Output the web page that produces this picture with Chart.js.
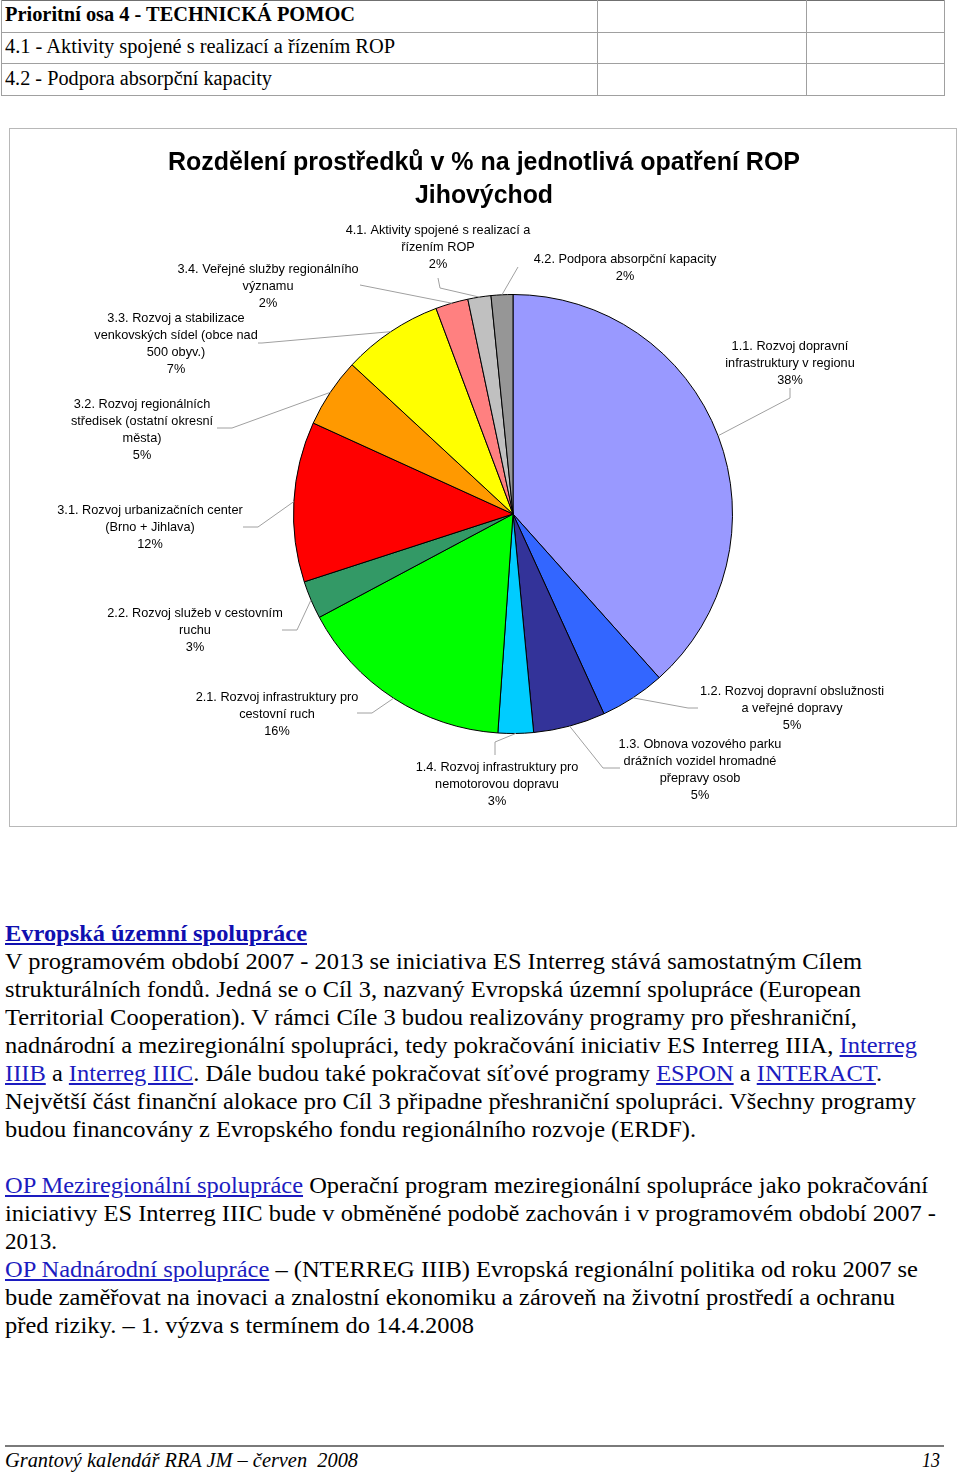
<!DOCTYPE html>
<html lang="cs">
<head>
<meta charset="utf-8">
<title>Rozdělení prostředků ROP Jihovýchod</title>
<script src="https://cdn.jsdelivr.net/npm/chart.js@4.4.1/dist/chart.umd.min.js"></script>
<style>
  html, body { margin: 0; padding: 0; background: #fff; }
  body { width: 960px; height: 1473px; position: relative; overflow: hidden;
         font-family: "Liberation Serif", "Times New Roman", serif; color: #000; }
  .ln { position: absolute; left: 5px; white-space: nowrap; transform-origin: 0 0; }
  .cell { position: absolute; background: #a0a0a0; }
  .tbl { font-size: 20px; line-height: 20px; }
  .txt { font-size: 24px; line-height: 28px; }
  .lnk { color: #1c1cc0; text-decoration: underline; }
  .head { color: #1010b0; font-weight: bold; text-decoration: underline; }
  #box { position: absolute; left: 9px; top: 128px; width: 946px; height: 697px; border: 1px solid #b8b8b8; }
  #chart { display: block; }
  .foot { font-style: italic; font-size: 21px; line-height: 21px; }
</style>
</head>
<body>

<!-- table header rows -->
<div class="cell" style="left:1px;top:0;width:944px;height:1px;background:#707070"></div>
<div class="cell" style="left:1px;top:32px;width:944px;height:1px"></div>
<div class="cell" style="left:1px;top:63px;width:944px;height:1px"></div>
<div class="cell" style="left:1px;top:95px;width:944px;height:1px"></div>
<div class="cell" style="left:1px;top:0;width:1px;height:96px"></div>
<div class="cell" style="left:597px;top:0;width:1px;height:96px"></div>
<div class="cell" style="left:806px;top:0;width:1px;height:96px"></div>
<div class="cell" style="left:944px;top:0;width:1px;height:96px"></div>
<div class="ln tbl" style="top:4px;font-weight:bold" data-w="350">Prioritní osa 4 - TECHNICKÁ POMOC</div>
<div class="ln tbl" style="top:36px" data-w="390">4.1 - Aktivity spojené s realizací a řízením ROP</div>
<div class="ln tbl" style="top:68px" data-w="267">4.2 - Podpora absorpční kapacity</div>

<div id="box"><canvas id="chart" width="946" height="697"></canvas></div>

<div class="ln txt" style="top:919px" data-w="302"><span class="head">Evropská územní spolupráce</span></div>
<div class="ln txt" style="top:947px" data-w="857">V programovém období 2007 - 2013 se iniciativa ES Interreg stává samostatným Cílem</div>
<div class="ln txt" style="top:975px" data-w="856">strukturálních fondů. Jedná se o Cíl 3, nazvaný Evropská územní spolupráce (European</div>
<div class="ln txt" style="top:1003px" data-w="852">Territorial Cooperation). V rámci Cíle 3 budou realizovány programy pro přeshraniční,</div>
<div class="ln txt" style="top:1031px" data-w="912">nadnárodní a meziregionální spolupráci, tedy pokračování iniciativ ES Interreg IIIA, <span class="lnk">Interreg</span></div>
<div class="ln txt" style="top:1059px" data-w="877"><span class="lnk">IIIB</span> a <span class="lnk">Interreg IIIC</span>. Dále budou také pokračovat síťové programy <span class="lnk">ESPON</span> a <span class="lnk">INTERACT</span>.</div>
<div class="ln txt" style="top:1087px" data-w="911">Největší část finanční alokace pro Cíl 3 připadne přeshraniční spolupráci. Všechny programy</div>
<div class="ln txt" style="top:1115px" data-w="691">budou financovány z Evropského fondu regionálního rozvoje (ERDF).</div>

<div class="ln txt" style="top:1171px" data-w="923"><span class="lnk">OP Meziregionální spolupráce</span> Operační program meziregionální spolupráce jako pokračování</div>
<div class="ln txt" style="top:1199px" data-w="931">iniciativy ES Interreg IIIC bude v obměněné podobě zachován i v programovém období 2007 -</div>
<div class="ln txt" style="top:1227px" data-w="52">2013.</div>
<div class="ln txt" style="top:1255px" data-w="913"><span class="lnk">OP Nadnárodní spolupráce</span> – (NTERREG IIIB) Evropská regionální politika od roku 2007 se</div>
<div class="ln txt" style="top:1283px" data-w="890">bude zaměřovat na inovaci a znalostní ekonomiku a zároveň na životní prostředí a ochranu</div>
<div class="ln txt" style="top:1311px" data-w="469">před riziky. – 1. výzva s termínem do 14.4.2008</div>

<div class="cell" style="left:5px;top:1445px;width:939px;height:2px;background:#7a7a7a"></div>
<div class="ln foot" style="top:1450px" data-w="353">Grantový kalendář RRA JM – červen&nbsp; 2008</div>
<div class="ln foot" style="top:1450px;left:922px" data-w="18">13</div>

<script>
// fit each text line to the width it has in the printed page
document.querySelectorAll('[data-w]').forEach(function (el) {
    const w = el.getBoundingClientRect().width;
    el.style.transform = 'scaleX(' + (Number(el.dataset.w) / w) + ')';
});

const chartTitle = ['Rozdělení prostředků v % na jednotlivá opatření ROP', 'Jihovýchod'];

const categories = [
    ['1.1. Rozvoj dopravní', 'infrastruktury v regionu'],
    ['1.2. Rozvoj dopravní obslužnosti', 'a veřejné dopravy'],
    ['1.3. Obnova vozového parku', 'drážních vozidel hromadné', 'přepravy osob'],
    ['1.4. Rozvoj infrastruktury pro', 'nemotorovou dopravu'],
    ['2.1. Rozvoj infrastruktury pro', 'cestovní ruch'],
    ['2.2. Rozvoj služeb v cestovním', 'ruchu'],
    ['3.1. Rozvoj urbanizačních center', '(Brno + Jihlava)'],
    ['3.2. Rozvoj regionálních', 'středisek (ostatní okresní', 'města)'],
    ['3.3. Rozvoj a stabilizace', 'venkovských sídel (obce nad', '500 obyv.)'],
    ['3.4. Veřejné služby regionálního', 'významu'],
    ['4.1. Aktivity spojené s realizací a', 'řízením ROP'],
    ['4.2. Podpora absorpční kapacity']
];

const shares = [38.4, 4.8, 5.3, 2.6, 16.1, 2.8, 11.8, 5.1, 7.4, 2.4, 1.7, 1.6];

const sliceColors = [
    '#9999FF', '#3366FF', '#333399', '#00CCFF', '#00FF00', '#339966',
    '#FF0000', '#FF9900', '#FFFF00', '#FF8080', '#C0C0C0', '#969696'
];

// where each label sits, relative to the pie centre: label centre x, first baseline y,
// then the bend of the leader line and its end next to the text
const labelPlaces = [
    { x: 277, y: -164, bend: [277, -116], end: [277, -126] },
    { x: 279, y: 181, bend: [175, 194], end: [185, 194] },
    { x: 187, y: 234, bend: [90, 254], end: [107, 254] },
    { x: -16, y: 257, bend: [-18, 228], end: [-18, 241] },
    { x: -236, y: 187, bend: [-141, 199], end: [-156, 199] },
    { x: -318, y: 103, bend: [-216, 116], end: [-231, 116] },
    { x: -363, y: 0, bend: [-255, 13], end: [-270, 13] },
    { x: -371, y: -106, bend: [-281, -86], end: [-296, -86] },
    { x: -337, y: -192, bend: [-251, -171], end: [-255, -171] },
    { x: -245, y: -241, bend: [-153, -229], end: [-153, -229] },
    { x: -75, y: -280, bend: [-73, -226], end: [-75, -236] },
    { x: 112, y: -251, bend: [5, -247], end: [5, -247] }
];

const LABEL_FONT = '13.5px "Liberation Sans", Arial, sans-serif';
const LINE_GAP = 17;

const leaderLabels = {
    id: 'leaderLabels',
    afterDatasetsDraw(chart) {
        const ctx = chart.ctx;
        const meta = chart.getDatasetMeta(0);
        const values = chart.data.datasets[0].data;
        const total = values.reduce((a, b) => a + b, 0);

        ctx.save();
        ctx.font = LABEL_FONT;
        const sx = 184 / ctx.measureText('1.2. Rozvoj dopravní obslužnosti').width;

        meta.data.forEach((arc, i) => {
            const p = arc.getProps(['x', 'y', 'startAngle', 'endAngle', 'outerRadius'], true);
            const mid = (p.startAngle + p.endAngle) / 2;
            const place = labelPlaces[i];

            ctx.strokeStyle = '#a0a0a0';
            ctx.lineWidth = 1;
            ctx.beginPath();
            ctx.moveTo(p.x + Math.cos(mid) * p.outerRadius, p.y + Math.sin(mid) * p.outerRadius);
            ctx.lineTo(p.x + place.bend[0], p.y + place.bend[1]);
            ctx.lineTo(p.x + place.end[0], p.y + place.end[1]);
            ctx.stroke();

            const lines = categories[i].concat([Math.round(values[i] / total * 100) + '%']);
            ctx.fillStyle = '#000';
            ctx.textAlign = 'center';
            ctx.textBaseline = 'alphabetic';
            lines.forEach((t, k) => {
                ctx.save();
                ctx.translate(p.x + place.x, p.y + place.y + k * LINE_GAP);
                ctx.scale(sx, 1);
                ctx.fillText(t, 0, 0);
                ctx.restore();
            });
        });
        ctx.restore();
    }
};

const pageTitle = {
    id: 'pageTitle',
    afterDraw(chart) {
        const ctx = chart.ctx;
        const widths = [632, 138];
        const baselines = [41, 74];
        ctx.save();
        ctx.font = 'bold 25px "Liberation Sans", Arial, sans-serif';
        ctx.fillStyle = '#000';
        ctx.textAlign = 'center';
        ctx.textBaseline = 'alphabetic';
        chartTitle.forEach((t, i) => {
            const k = widths[i] / ctx.measureText(t).width;
            ctx.save();
            ctx.translate(474, baselines[i]);
            ctx.scale(k, 1);
            ctx.fillText(t, 0, 0);
            ctx.restore();
        });
        ctx.restore();
    }
};

new Chart(document.getElementById('chart'), {
    type: 'pie',
    data: {
        labels: categories,
        datasets: [{
            data: shares,
            backgroundColor: sliceColors,
            borderColor: '#000',
            borderWidth: 1
        }]
    },
    options: {
        responsive: false,
        devicePixelRatio: 1,
        animation: false,
        layout: { padding: { left: 283, right: 223, top: 165, bottom: 92 } },
        plugins: {
            legend: { display: false },
            title: { display: false },
            tooltip: { enabled: false }
        }
    },
    plugins: [leaderLabels, pageTitle]
});
</script>
</body>
</html>
